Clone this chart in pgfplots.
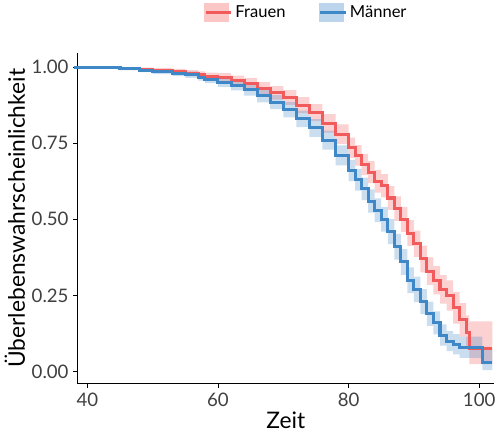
\documentclass[border=0pt]{standalone}
\usepackage{fontspec}
\setmainfont{Lato}
\usepackage{pgfplots}
\pgfplotsset{compat=1.18}
\usepackage{pgfplotstable}
\usepgfplotslibrary{fillbetween}
\definecolor{fr}{HTML}{F25B5B}
\definecolor{mn}{HTML}{3F88C8}
\pgfplotstableread{
x y lo hi
38 1.000 1.000 1.000
42 0.998 0.995 1.000
45 0.995 0.990 1.000
48 0.992 0.986 0.998
50 0.990 0.983 0.997
53 0.985 0.976 0.994
55 0.980 0.970 0.990
57 0.975 0.964 0.986
58 0.970 0.958 0.982
60 0.965 0.950 0.980
62 0.955 0.938 0.972
64 0.945 0.926 0.964
66 0.930 0.910 0.950
68 0.915 0.893 0.937
70 0.900 0.876 0.924
72 0.875 0.849 0.901
74 0.850 0.822 0.878
76 0.815 0.785 0.845
78 0.780 0.748 0.812
80 0.735 0.702 0.768
81 0.710 0.676 0.744
82 0.680 0.645 0.715
83 0.655 0.619 0.691
84 0.625 0.588 0.662
85 0.610 0.572 0.648
86 0.570 0.531 0.609
87 0.535 0.495 0.575
88 0.500 0.459 0.541
89 0.455 0.413 0.497
90 0.420 0.377 0.463
91 0.370 0.326 0.414
92 0.330 0.285 0.375
93 0.300 0.254 0.346
94 0.270 0.223 0.317
95 0.250 0.200 0.300
96 0.210 0.158 0.262
97 0.170 0.115 0.225
98 0.130 0.075 0.185
98.5 0.075 0.025 0.165
102 0.075 0.025 0.165
}\fr
\pgfplotstableread{
x y lo hi
38 1.000 1.000 1.000
42 0.998 0.995 1.000
45 0.995 0.990 1.000
48 0.990 0.983 0.997
50 0.985 0.977 0.993
53 0.980 0.970 0.990
55 0.975 0.964 0.986
57 0.967 0.955 0.979
58 0.960 0.947 0.973
60 0.950 0.935 0.965
62 0.940 0.923 0.957
64 0.925 0.906 0.944
66 0.905 0.884 0.926
68 0.885 0.862 0.908
70 0.860 0.835 0.885
72 0.830 0.803 0.857
74 0.800 0.771 0.829
76 0.760 0.729 0.791
78 0.710 0.677 0.743
80 0.660 0.625 0.695
81 0.630 0.594 0.666
82 0.600 0.563 0.637
83 0.560 0.522 0.598
84 0.530 0.491 0.569
85 0.500 0.460 0.540
86 0.460 0.419 0.501
87 0.410 0.368 0.452
88 0.360 0.318 0.402
89 0.300 0.258 0.342
90 0.270 0.228 0.312
91 0.230 0.189 0.271
92 0.190 0.150 0.230
93 0.160 0.122 0.198
94 0.120 0.085 0.155
95 0.100 0.067 0.133
96 0.090 0.057 0.123
97 0.080 0.045 0.115
100.5 0.030 0.005 0.075
102 0.030 0.005 0.075
}\mn
\begin{document}
\begin{tikzpicture}
\begin{axis}[
  scale only axis, width=302pt, height=240pt,
  xmin=38.5, xmax=102.3, ymin=-0.04, ymax=1.047,
  axis lines=left, axis line style={-, line width=0.6pt},
  xtick={40,60,80,100}, ytick={0,0.25,0.5,0.75,1},
  yticklabels={0.00,0.25,0.50,0.75,1.00},
  tick align=outside, tick style={black, line width=0.6pt},
  major tick length=3pt,
  /pgf/number format/assume math mode=true,
  ticklabel style={font=\fontsize{13.5}{15}\selectfont, text=black!75},
  xlabel={Zeit}, ylabel={Überlebenswahrscheinlichkeit},
  label style={font=\fontsize{16.5}{19}\selectfont},
  xlabel style={yshift=3pt}, ylabel style={yshift=-2pt},
  legend style={draw=none, at={(0.55,1.16)}, anchor=north, legend columns=2,
    font=\fontsize{12}{14}\selectfont, /tikz/every even column/.style={column sep=22pt}},
  legend cell align=left,
  clip=false,
]
\addplot[const plot, draw=none, name path=frlo, forget plot] table[x=x,y=lo]{\fr};
\addplot[const plot, draw=none, name path=frhi, forget plot] table[x=x,y=hi]{\fr};
\addplot[fill=fr, fill opacity=0.28, forget plot] fill between[of=frlo and frhi];
\addplot[const plot, draw=none, name path=mnlo, forget plot] table[x=x,y=lo]{\mn};
\addplot[const plot, draw=none, name path=mnhi, forget plot] table[x=x,y=hi]{\mn};
\addplot[fill=mn, fill opacity=0.28, forget plot] fill between[of=mnlo and mnhi];
\addplot[const plot, fr, line width=2.2pt,
  legend image code/.code={\fill[fr!35] (0,-6pt) rectangle (0.65cm,6pt); \draw[fr,line width=2.2pt] (0,0)--(0.65cm,0);}]
  table[x=x,y=y]{\fr};
\addlegendentry{Frauen}
\addplot[const plot, mn, line width=2.2pt,
  legend image code/.code={\fill[mn!35] (0,-6pt) rectangle (0.65cm,6pt); \draw[mn,line width=2.2pt] (0,0)--(0.65cm,0);}]
  table[x=x,y=y]{\mn};
\addlegendentry{Männer}
\end{axis}
\end{tikzpicture}
\end{document}
